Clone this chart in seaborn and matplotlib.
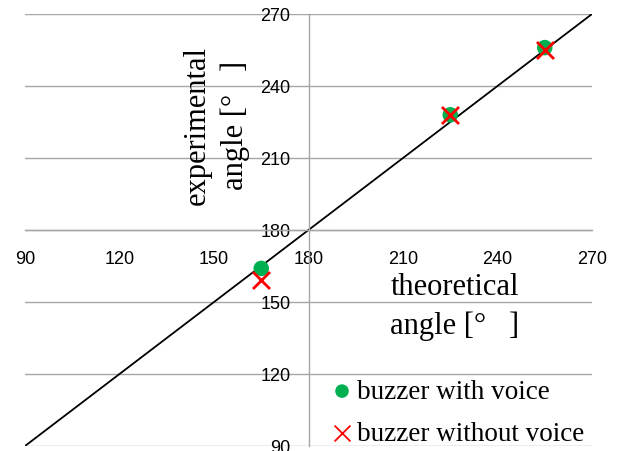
import numpy as np
import matplotlib
matplotlib.use("Agg")
import matplotlib.pyplot as plt
import seaborn as sns

# angles
theory = [165, 225, 255]
with_voice = [164, 228, 256]
without_voice = [159, 228, 255]
ideal = [90, 270]
ticks = [90, 120, 150, 180, 210, 240, 270]

sns.set_style("white")
plt.rcParams['font.family'] = ['Liberation Sans', 'DejaVu Sans']
plt.rcParams['text.color'] = 'black'

grid_col = "#a6a6a6"
serif = ['Liberation Serif', 'DejaVu Serif']

fig = plt.figure(figsize=(6.22, 4.52), dpi=100)
ax = fig.add_axes([25/622, 5/452, 567/622, 432/452])

sns.lineplot(x=ideal, y=ideal, color="black", linewidth=1.3, ax=ax, legend=False)
sns.scatterplot(x=theory, y=with_voice, color="#00B050", marker="o", s=125,
                edgecolor="none", label="buzzer with voice", ax=ax, zorder=3)
sns.scatterplot(x=theory, y=without_voice, color="#FF0000", marker="x", s=150,
                linewidth=2, label="buzzer without voice", ax=ax, zorder=4)

ax.set_xlim(90, 270)
ax.set_ylim(90, 270)
ax.set_xticks(ticks)
ax.set_yticks(ticks)

for s in ["top", "right"]:
    ax.spines[s].set_visible(False)
ax.spines["left"].set_position(("data", 180))
ax.spines["bottom"].set_position(("data", 180))
for s in ["left", "bottom"]:
    ax.spines[s].set_color(grid_col)
    ax.spines[s].set_linewidth(1)

ax.yaxis.grid(True, color=grid_col, linewidth=1)
ax.xaxis.grid(False)
ax.set_axisbelow(True)

ax.tick_params(axis="x", direction="out", length=3.6, width=1, color=grid_col,
               pad=10.5, labelsize=13, labelcolor="black")
ax.tick_params(axis="y", length=0, pad=13, labelsize=13, labelcolor="black")

ax.text(0.758, 0.324, "theoretical\nangle [°   ]", transform=ax.transAxes,
        ha="center", va="center", fontsize=22, family=serif, linespacing=1.4,
        color="black")
ax.text(0.337, 0.745, "experimental\nangle [°   ]", transform=ax.transAxes,
        ha="center", va="center", rotation=90, fontsize=22, family=serif,
        linespacing=1.4, color="black")

leg = ax.legend(loc="lower left", bbox_to_anchor=(0.54, 0.0), frameon=False,
                prop={"family": serif, "size": 19.5}, handletextpad=0.15,
                handlelength=0.8, borderpad=0, borderaxespad=0, labelspacing=0.62)
for t in leg.get_texts():
    t.set_color("black")
leg.legend_handles[0].set_sizes([95])
leg.legend_handles[1].set_sizes([130])
leg.legend_handles[1].set_linewidth(1.3)

fig.savefig("out.png", dpi=100)
